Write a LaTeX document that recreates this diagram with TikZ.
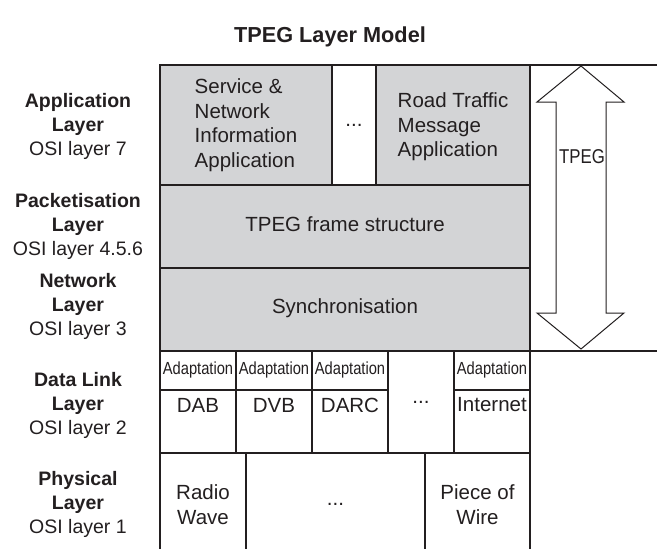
\documentclass[tikz,border=0pt]{standalone}
\usepackage{fontspec}
\setmainfont{Liberation Sans}
\newfontfamily\narrowfont[FakeStretch=0.84]{Liberation Sans}
\definecolor{cellgray}{HTML}{D3D4D6}
\definecolor{ink}{HTML}{231F20}
\tikzset{
  cell/.style={draw=ink, line width=1.5pt, inner sep=0pt, outer sep=0pt, anchor=north west, text=ink},
  graycell/.style={cell, fill=cellgray},
  celltext/.style={font=\fontsize{20.5}{24.5}\selectfont, text=ink, align=left, inner sep=0pt},
  adapt/.style={font=\narrowfont\fontsize{17.5}{20}\selectfont},
  sidelabel/.style={font=\fontsize{19.5}{24}\selectfont, text=ink, align=center, inner sep=0pt},
  rule/.style={draw=ink, line width=1.2pt},
}
\begin{document}
\begin{tikzpicture}[x=1pt, y=-1pt]
\clip (0,0) rectangle (657,549);
\fill[white] (0,0) rectangle (657,549);
% title
\node[font=\bfseries\fontsize{21.7}{26}\selectfont, text=ink, anchor=base] (title) at (330,42) {TPEG Layer Model};
% application row
\node[graycell, minimum width=172pt, minimum height=120pt] (sna) at (160,65) {};
\node[celltext] (snatext) at (sna.center) {Service \&\\Network\\Information\\Application};
\node[cell, fill=white, minimum width=44pt, minimum height=120pt] (appdots) at (332,65) {};
\node[celltext] (appdotstext) at (appdots.center) {...};
\node[graycell, minimum width=154pt, minimum height=120pt] (rtm) at (376,65) {};
\node[celltext] (rtmtext) at ([yshift=-2pt]rtm.center) {Road Traffic\\Message\\Application};
% packetisation and network rows
\node[graycell, minimum width=370pt, minimum height=83pt] (frame) at (160,185) {};
\node[celltext] (frametext) at ([yshift=2pt]frame.center) {TPEG frame structure};
\node[graycell, minimum width=370pt, minimum height=83pt] (sync) at (160,268) {};
\node[celltext] (synctext) at ([yshift=1pt]sync.center) {Synchronisation};
% data link row
\node[cell, minimum width=76pt, minimum height=39pt] (ad1) at (160,351) {};
\node[cell, minimum width=76pt, minimum height=39pt] (ad2) at (236,351) {};
\node[cell, minimum width=76pt, minimum height=39pt] (ad3) at (312,351) {};
\node[cell, minimum width=76pt, minimum height=39pt] (ad4) at (454,351) {};
\foreach \n in {ad1,ad2,ad3,ad4}
  \node[celltext, adapt] (\n t) at ([yshift=1pt]\n.center) {Adaptation};
\node[cell, minimum width=76pt, minimum height=63pt] (dab) at (160,390) {};
\node[cell, minimum width=76pt, minimum height=63pt] (dvb) at (236,390) {};
\node[cell, minimum width=76pt, minimum height=63pt] (darc) at (312,390) {};
\node[cell, minimum width=66pt, minimum height=102pt] (dldots) at (388,351) {};
\node[cell, minimum width=76pt, minimum height=63pt] (inet) at (454,390) {};
\node[celltext, anchor=center] (dabtext) at (198,405) {DAB};
\node[celltext, anchor=center] (dvbtext) at (274,405) {DVB};
\node[celltext, anchor=center] (darctext) at (350,405) {DARC};
\node[celltext, anchor=center] (dldotstext) at (421,402) {...};
\node[celltext, anchor=center] (inettext) at (492,405) {Internet};
% physical row
\node[cell, minimum width=86pt, minimum height=103pt] (radio) at (160,453) {};
\node[cell, minimum width=179pt, minimum height=103pt] (phdots) at (246,453) {};
\node[cell, minimum width=105pt, minimum height=103pt] (wire) at (425,453) {};
\node[celltext, align=center] (radiotext) at (radio.center) {Radio\\Wave};
\node[celltext] (phdotstext) at (phdots.center) {...};
\node[celltext, align=center] (wiretext) at (wire.center) {Piece of\\Wire};
% side labels
\node[sidelabel] (l7) at (78,126) {\textbf{Application}\\\textbf{Layer}\\OSI layer 7};
\node[sidelabel] (l456) at (78,226) {\textbf{Packetisation}\\\textbf{Layer}\\OSI layer 4.5.6};
\node[sidelabel] (l3) at (78,306) {\textbf{Network}\\\textbf{Layer}\\OSI layer 3};
\node[sidelabel] (l2) at (78,405) {\textbf{Data Link}\\\textbf{Layer}\\OSI layer 2};
\node[sidelabel] (l1) at (78,504) {\textbf{Physical}\\\textbf{Layer}\\OSI layer 1};
% TPEG range
\coordinate (rtop) at (657,65);
\coordinate (rbot) at (657,351);
\draw[rule] (rtm.north east) -- (rtop);
\draw[rule] (sync.south east) -- (rbot);
\draw[draw=ink, line width=1pt, fill=white]
  (581,66) -- (624,102) -- (606,102) -- (606,313) -- (624,313) -- (581,349)
  -- (537,313) -- (556,313) -- (556,102) -- (537,102) -- cycle;
\node[font=\narrowfont\fontsize{20}{24}\selectfont, text=ink, inner sep=0pt] (tpeg) at (582,157) {TPEG};
\end{tikzpicture}
\end{document}
